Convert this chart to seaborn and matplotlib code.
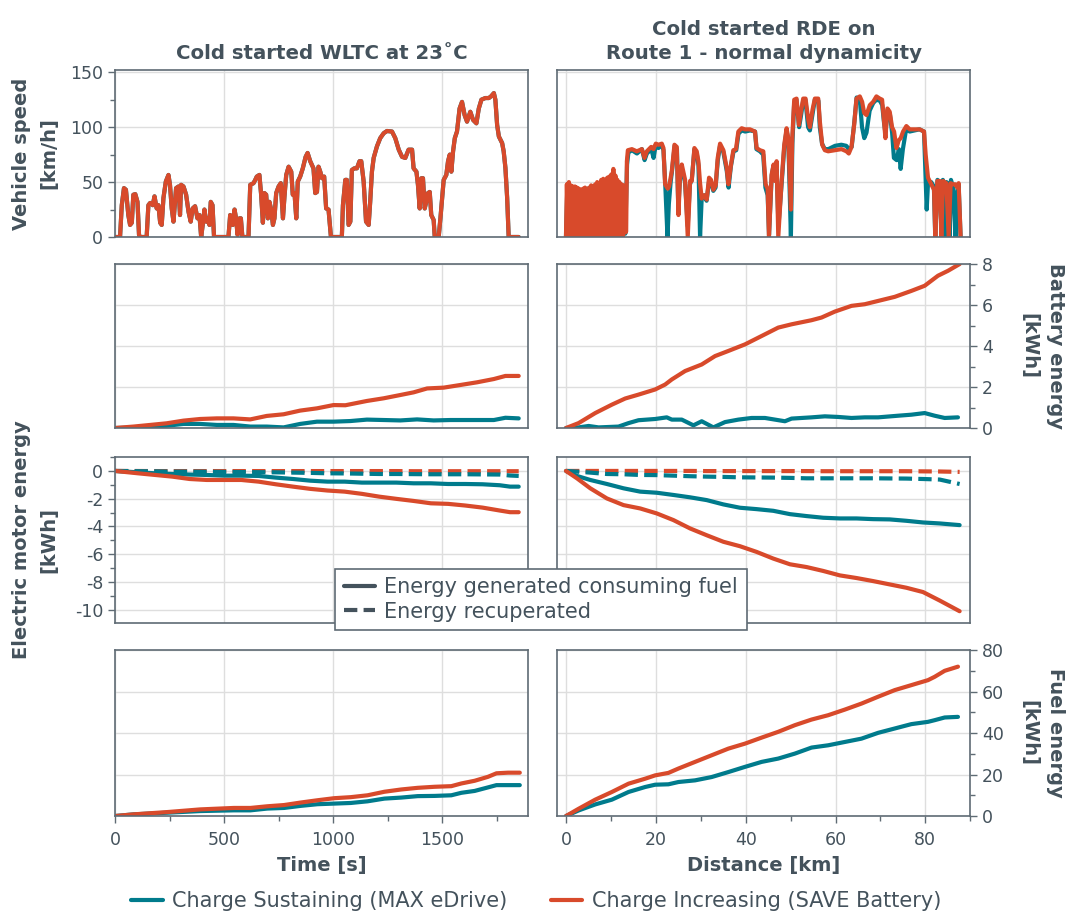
import matplotlib
matplotlib.use("Agg")
import matplotlib.pyplot as plt
from matplotlib.lines import Line2D
from matplotlib.ticker import MultipleLocator
import pandas as pd
import seaborn as sns

# ---------------------------------------------------------------- data
# WLTC speed trace (time [s], speed [km/h]) - identical for both modes
wltc_speed = [
    (0, 0), (23, 0), (31, 29), (41, 44.5), (50, 43), (61, 20), (69, 11), (77, 13),
    (84, 38.5), (93, 39), (103, 32), (110, 2), (115, 0), (145, 0), (153, 29), (161, 31),
    (173, 29), (181, 37), (191, 26), (199, 29), (207, 13), (214, 11), (222, 35.5),
    (233, 50.5), (245, 56.5), (252, 47.5), (260, 26), (268, 14), (280, 44.5), (291, 46),
    (298, 20), (303, 47.5), (314, 46), (326, 38.5), (337, 23), (347, 14), (356, 26),
    (367, 28), (378, 17), (387, 20), (395, 0), (402, 11), (410, 25), (418, 14), (424, 17),
    (433, 11), (439, 32), (447, 29), (454, 0), (520, 0), (528, 20), (536, 14), (540, 11),
    (548, 25), (555, 17), (562, 2), (571, 17), (577, 17), (584, 0), (612, 0), (620, 47.5),
    (635, 49), (643, 52), (650, 55), (662, 56.5), (670, 38.5), (678, 13), (685, 40),
    (693, 38.5), (701, 17), (708, 32), (716, 25), (724, 11), (731, 17), (739, 40),
    (750, 46), (760, 49), (770, 17), (777, 37), (785, 56.5), (796, 64), (808, 59.5),
    (815, 38.5), (823, 40), (831, 17), (838, 50.5), (849, 55), (861, 62.5), (874, 73),
    (883, 76.5), (895, 69), (910, 62.5), (918, 40), (926, 41), (933, 64), (941, 59.5),
    (949, 53.5), (959, 55), (968, 26), (979, 25), (990, 0), (1040, 0), (1045, 29),
    (1056, 52), (1063, 52), (1071, 11), (1079, 14), (1086, 61), (1097, 62.5), (1109, 62.5),
    (1121, 69), (1129, 69), (1140, 50.5), (1151, 14), (1163, 11), (1170, 32), (1178, 59.5),
    (1186, 72), (1201, 82.5), (1216, 90), (1232, 94.5), (1247, 96.5), (1270, 96),
    (1285, 90), (1301, 79.5), (1316, 73), (1331, 72), (1346, 79.5), (1362, 79.5),
    (1369, 62.5), (1382, 59.5), (1389, 47.5), (1397, 26), (1405, 53.5), (1412, 53.5),
    (1420, 26), (1427, 32), (1435, 40), (1443, 41), (1450, 20), (1461, 15.5), (1466, 0),
    (1484, 0), (1492, 17), (1507, 52), (1519, 56.5), (1527, 69), (1535, 75), (1542, 59.5),
    (1550, 78), (1558, 90), (1568, 96), (1580, 117), (1591, 123), (1603, 111), (1614, 105),
    (1629, 114), (1642, 106.5), (1657, 103.5), (1668, 117), (1680, 125), (1698, 126.5),
    (1714, 126.5), (1724, 128), (1737, 131), (1744, 125), (1752, 102), (1760, 91.5),
    (1775, 85.5), (1782, 78), (1790, 63), (1798, 35.5), (1805, 0), (1851, 0),
]

# RDE speed trace (distance [km], speed [km/h]), Charge Sustaining
rde_speed_cs = [
    (0.0, 0), (0.3, 45), (0.6, 0), (1.0, 42), (1.4, 0), (1.8, 44), (2.3, 0), (2.8, 43),
    (3.3, 0), (3.8, 42), (4.3, 0), (4.8, 44), (5.3, 0), (5.8, 45), (6.3, 0), (6.8, 47),
    (7.3, 0), (7.8, 48), (8.3, 0), (8.7, 50), (9.2, 0), (9.7, 52), (10.2, 0), (10.6, 58),
    (11.1, 0), (11.6, 50), (12.1, 0), (12.6, 46), (13.2, 3), (13.6, 66), (13.9, 77),
    (14.7, 79), (15.8, 76), (16.9, 80), (17.5, 70), (18.0, 76), (19.0, 80), (19.5, 72),
    (20.0, 84), (20.6, 81), (21.3, 84), (21.7, 79), (22.1, 48), (22.4, 20), (22.6, 0),
    (22.9, 30), (23.3, 50), (23.6, 60), (24.2, 83), (24.7, 80), (25.0, 25), (25.4, 55),
    (25.8, 62), (26.5, 50), (27.1, 10), (27.6, 48), (28.0, 52), (28.6, 80), (29.1, 76),
    (29.5, 65), (29.85, 0), (30.2, 34), (30.8, 38), (31.3, 33), (31.9, 52), (32.3, 50),
    (32.8, 42), (33.3, 45), (33.8, 70), (34.3, 83), (35.0, 78), (35.8, 60), (36.2, 45),
    (36.7, 64), (37.3, 78), (37.9, 79), (38.4, 94), (39.1, 97), (39.9, 96), (41.0, 97),
    (42.1, 96), (42.4, 80), (43.2, 78), (43.9, 75), (44.4, 45), (44.9, 38), (45.2, 2),
    (45.8, 56), (46.2, 65), (46.5, 52), (46.9, 62), (47.3, 10), (48.0, 48), (48.6, 82),
    (49.1, 97), (49.5, 88), (49.8, 40), (50.07, 0), (50.4, 85), (50.8, 122), (51.3, 125),
    (51.9, 100), (52.3, 110), (52.8, 124), (53.3, 125), (53.9, 100), (54.3, 97),
    (54.9, 112), (55.4, 125), (56.2, 124), (56.5, 100), (57.0, 85), (57.6, 80), (58.4, 80),
    (59.9, 83), (61.3, 84), (62.4, 83), (63.0, 80), (63.6, 82), (64.2, 105), (64.7, 127),
    (65.4, 126), (65.9, 100), (66.4, 90), (66.9, 95), (67.6, 115), (68.4, 122), (69.1, 125),
    (69.9, 124), (70.4, 120), (70.8, 104), (71.1, 95), (71.6, 115), (72.1, 112), (72.6, 95),
    (73.0, 72), (73.6, 70), (74.1, 80), (74.5, 62), (75.0, 80), (75.8, 100), (76.5, 96),
    (77.6, 97), (78.7, 98), (79.7, 96), (80.0, 60), (80.3, 25), (80.6, 50), (81.3, 50),
    (81.9, 46), (82.2, 0), (82.7, 52), (83.2, 50), (83.6, 0), (83.9, 52), (84.3, 0),
    (84.7, 50), (85.2, 48), (85.4, 0), (85.7, 52), (86.2, 45), (86.7, 0), (87.1, 40),
    (87.4, 48), (87.85, 0),
]

# RDE speed trace (distance [km], speed [km/h]), Charge Increasing
rde_speed_ci = [
    (0.0, 0), (0.2, 48), (0.45, 2), (0.65, 50), (0.9, 0), (1.1, 47), (1.35, 5), (1.55, 46),
    (1.8, 0), (2.0, 46), (2.25, 3), (2.45, 45), (2.7, 0), (2.9, 44), (3.15, 6), (3.35, 43),
    (3.6, 0), (3.8, 44), (4.05, 2), (4.25, 45), (4.5, 0), (4.7, 42), (4.95, 4), (5.15, 45),
    (5.4, 0), (5.6, 47), (5.85, 3), (6.05, 46), (6.3, 0), (6.5, 48), (6.75, 5), (6.95, 50),
    (7.2, 0), (7.4, 49), (7.65, 2), (7.85, 52), (8.1, 0), (8.3, 53), (8.55, 4), (8.75, 51),
    (9.0, 0), (9.2, 54), (9.45, 3), (9.65, 55), (9.9, 0), (10.1, 57), (10.35, 5),
    (10.55, 62), (10.8, 0), (11.0, 56), (11.25, 3), (11.45, 52), (11.7, 0), (11.9, 50),
    (12.15, 4), (12.35, 48), (12.6, 0), (12.8, 47), (13.0, 45), (13.2, 4), (13.4, 5),
    (13.56, 69), (13.78, 79), (14.67, 80), (15.78, 78), (16.89, 80), (17.48, 72),
    (18.0, 78), (18.96, 82), (19.48, 80), (20.0, 85), (20.59, 84), (21.33, 85), (21.7, 81),
    (22.07, 48), (22.67, 44), (22.96, 46), (23.56, 60), (24.15, 84), (24.67, 82),
    (25.04, 20), (25.41, 58), (25.78, 66), (26.52, 52), (27.11, 0), (27.63, 51), (28.0, 51),
    (28.59, 81), (29.11, 78), (29.48, 69), (29.85, 49), (30.22, 35), (30.81, 38),
    (31.33, 34), (31.85, 54), (32.3, 52), (32.81, 43), (33.33, 47), (33.78, 72), (34.3, 85),
    (35.04, 79), (35.78, 63), (36.15, 48), (36.74, 66), (37.26, 79), (37.85, 80),
    (38.37, 96), (39.11, 99), (39.85, 98), (40.96, 98), (42.07, 96), (42.44, 81),
    (43.19, 79), (43.93, 78), (44.44, 48), (44.89, 44), (45.19, 0), (45.78, 57),
    (46.22, 66), (46.52, 51), (46.89, 69), (47.26, 0), (48.0, 51), (48.59, 84), (49.11, 99),
    (49.48, 90), (50.07, 25), (50.37, 90), (50.81, 125), (51.33, 126), (51.85, 102),
    (52.3, 114), (52.81, 126), (53.33, 126), (53.93, 107), (54.3, 100), (54.89, 116),
    (55.41, 126), (56.15, 126), (56.52, 105), (57.04, 84), (57.63, 79), (58.37, 78),
    (59.85, 79), (61.33, 80), (62.44, 78), (62.96, 76), (63.56, 82), (64.15, 102),
    (64.67, 126), (65.41, 128), (65.93, 123), (66.37, 113), (66.89, 111), (67.63, 120),
    (68.37, 123), (69.11, 128), (69.85, 126), (70.37, 125), (70.81, 105), (71.11, 90),
    (71.56, 117), (72.07, 114), (72.59, 100), (73.04, 96), (73.56, 81), (74.07, 88),
    (74.52, 90), (75.04, 96), (75.78, 101), (76.52, 98), (77.63, 98), (78.74, 98),
    (79.7, 96), (80.07, 75), (80.59, 54), (81.33, 48), (81.93, 43), (82.22, 0), (82.67, 51),
    (83.19, 51), (83.56, 0), (83.93, 51), (84.67, 49), (85.19, 0), (85.63, 49), (86.15, 48),
    (86.67, 48), (87.11, 45), (87.41, 49), (87.85, 0),
]

# Battery energy [kWh]
bat_wltc_t_cs = [0, 84, 161, 237, 314, 390, 467, 543, 620, 696, 773, 849, 926, 1002,
                 1079, 1155, 1232, 1308, 1385, 1461, 1538, 1614, 1691, 1737, 1790, 1851]
bat_wltc_cs = [0, 0.02, 0.07, 0.11, 0.2, 0.2, 0.15, 0.15, 0.07, 0.07, 0.03, 0.2, 0.31,
               0.31, 0.34, 0.41, 0.39, 0.37, 0.42, 0.37, 0.39, 0.39, 0.39, 0.39, 0.5, 0.47]
bat_wltc_t_ci = [0, 84, 161, 237, 314, 390, 467, 543, 620, 696, 773, 849, 926, 1002,
                 1056, 1155, 1232, 1308, 1369, 1431, 1507, 1584, 1660, 1737, 1790, 1851]
bat_wltc_ci = [0, 0.07, 0.15, 0.23, 0.36, 0.44, 0.47, 0.47, 0.42, 0.59, 0.67, 0.85, 0.96,
               1.12, 1.11, 1.32, 1.45, 1.61, 1.74, 1.93, 1.97, 2.1, 2.23, 2.39, 2.54, 2.54]
bat_rde_d_cs = [0, 2.81, 5.04, 7.26, 11.7, 13.93, 16.15, 19.85, 22.44, 23.56, 25.78, 28.37,
                30.22, 32.81, 35.41, 38.37, 41.33, 44.3, 46.52, 48.74, 50.22, 54.67, 57.63,
                60.59, 63.56, 66.52, 69.48, 73.93, 76.89, 79.85, 82.07, 84.3, 87.26]
bat_rde_cs = [0, 0.03, 0.1, 0.03, 0.07, 0.24, 0.38, 0.44, 0.52, 0.41, 0.41, 0.13, 0.33,
              0.03, 0.29, 0.41, 0.49, 0.49, 0.41, 0.33, 0.46, 0.52, 0.57, 0.54, 0.49, 0.52,
              0.52, 0.6, 0.65, 0.73, 0.6, 0.49, 0.52]
bat_rde_d_ci = [0, 2.81, 6.52, 10.22, 13.19, 16.15, 19.85, 22.07, 23.56, 26.52, 30.22,
                33.19, 36.15, 39.85, 43.56, 47.26, 50.22, 54.67, 56.89, 59.85, 63.56, 66.52,
                69.48, 73.19, 76.89, 79.85, 82.81, 85.04, 87.63]
bat_rde_ci = [0, 0.24, 0.73, 1.14, 1.44, 1.63, 1.88, 2.12, 2.37, 2.78, 3.1, 3.51, 3.76,
              4.08, 4.49, 4.9, 5.06, 5.26, 5.39, 5.68, 5.96, 6.04, 6.2, 6.4, 6.69, 6.94,
              7.43, 7.67, 8.0]

# Electric motor energy [kWh]: generated consuming fuel (gen) / recuperated (rec)
em_wltc_t = [0, 105, 184, 263, 342, 421, 500, 579, 658, 737, 816, 895, 974, 1053, 1132,
             1211, 1290, 1369, 1448, 1527, 1606, 1685, 1764, 1811, 1851]
em_wltc_gen_cs = [0, -0.1, -0.17, -0.22, -0.26, -0.29, -0.34, -0.34, -0.36, -0.48, -0.58,
                  -0.7, -0.77, -0.77, -0.84, -0.84, -0.84, -0.89, -0.89, -0.94, -0.94,
                  -0.96, -1.03, -1.13, -1.13]
em_wltc_rec_cs = [0, -0.02, -0.03, -0.05, -0.05, -0.06, -0.07, -0.08, -0.09, -0.1, -0.12,
                  -0.14, -0.17, -0.18, -0.2, -0.22, -0.22, -0.23, -0.24, -0.24, -0.24,
                  -0.25, -0.26, -0.33, -0.36]
em_wltc_gen_ci = [0, -0.17, -0.29, -0.41, -0.58, -0.65, -0.65, -0.65, -0.77, -0.96, -1.13,
                  -1.29, -1.41, -1.49, -1.65, -1.85, -2.01, -2.16, -2.33, -2.37, -2.49,
                  -2.64, -2.85, -2.97, -2.97]
em_wltc_rec_ci = [0, -0.005, -0.01, -0.01, -0.01, -0.01, -0.01, -0.01, -0.01, -0.01, -0.01,
                  -0.01, -0.01, -0.01, -0.01, -0.01, -0.01, -0.02, -0.02, -0.02, -0.02,
                  -0.02, -0.02, -0.02, -0.02]
em_rde_d = [0, 2.44, 5.41, 9.11, 12.81, 16.52, 20.22, 23.93, 27.63, 31.33, 35.04, 38.74,
            42.44, 46.15, 49.85, 53.56, 57.26, 60.96, 64.67, 68.37, 72.07, 75.78, 79.48,
            83.19, 87.63]
em_rde_gen_cs = [0, -0.36, -0.65, -0.94, -1.25, -1.49, -1.57, -1.73, -1.9, -2.1, -2.41,
                 -2.65, -2.75, -2.87, -3.11, -3.25, -3.37, -3.42, -3.42, -3.47, -3.49,
                 -3.59, -3.71, -3.78, -3.9]
em_rde_rec_cs = [0, -0.05, -0.12, -0.22, -0.24, -0.29, -0.3, -0.34, -0.38, -0.41, -0.43,
                 -0.46, -0.47, -0.48, -0.5, -0.53, -0.53, -0.53, -0.53, -0.53, -0.54, -0.55,
                 -0.58, -0.62, -0.94]
em_rde_gen_ci = [0, -0.53, -1.25, -1.98, -2.46, -2.7, -3.06, -3.54, -4.14, -4.63, -5.1,
                 -5.42, -5.83, -6.31, -6.72, -6.92, -7.2, -7.52, -7.71, -7.93, -8.17, -8.41,
                 -8.72, -9.33, -10.1]
em_rde_rec_ci = [0, 0, 0, 0, 0, 0, 0, 0, 0, -0.01, -0.01, -0.01, -0.01, -0.01, -0.01, -0.01,
                 -0.02, -0.02, -0.02, -0.02, -0.02, -0.02, -0.03, -0.04, -0.07]

# Fuel energy [kWh]
fuel_wltc_t = [0, 84, 238, 391, 545, 621, 698, 775, 851, 928, 1005, 1081, 1158, 1235, 1312,
               1388, 1465, 1542, 1588, 1649, 1710, 1749, 1802, 1856]
fuel_wltc_cs = [0, 0.8, 1.6, 2.4, 2.75, 2.75, 3.6, 3.9, 4.9, 5.7, 6.0, 6.3, 7.1, 8.4, 8.9,
                9.6, 9.7, 10.0, 11.2, 12.1, 13.8, 14.9, 14.9, 14.9]
fuel_wltc_ci = [0, 0.8, 1.9, 3.2, 3.9, 3.9, 4.7, 5.3, 6.5, 7.6, 8.6, 9.1, 10.0, 11.7, 12.8,
                13.6, 14.1, 14.4, 15.7, 17.0, 18.9, 20.6, 20.9, 20.9]
fuel_rde_d = [0, 2.81, 6.52, 10.22, 13.93, 17.63, 19.85, 22.81, 25.04, 28.74, 32.44, 36.15,
              39.85, 43.56, 47.26, 50.96, 54.67, 58.37, 62.07, 65.78, 69.48, 73.19, 76.89,
              80.59, 82.07, 84.3, 87.26]
fuel_rde_cs = [0, 2.7, 5.6, 7.9, 11.6, 14.0, 15.1, 15.3, 16.4, 17.2, 18.8, 21.2, 23.7, 26.1,
               27.7, 30.1, 33.0, 34.1, 35.7, 37.3, 40.1, 42.2, 44.3, 45.4, 46.2, 47.5, 47.8]
fuel_rde_ci = [0, 3.5, 7.9, 11.6, 15.6, 18.0, 19.6, 20.8, 22.9, 26.1, 29.3, 32.5, 34.9,
               37.8, 40.6, 43.8, 46.5, 48.6, 51.3, 54.2, 57.5, 60.7, 63.1, 65.5, 67.1, 70.0,
               72.0]

mode_labels = ["Charge Sustaining (MAX eDrive)", "Charge Increasing (SAVE Battery)"]
style_labels = ["Energy generated consuming fuel", "Energy recuperated"]
col_titles = ["Cold started WLTC at 23\u02daC", "Cold started RDE on\nRoute 1 - normal dynamicity"]
row_labels = ["Vehicle speed\n[km/h]", "Battery energy\n[kWh]",
              "Electric motor energy\n[kWh]", "Fuel energy\n[kWh]"]
x_labels = ["Time [s]", "Distance [km]"]

# ---------------------------------------------------------------- style
TEAL = "#007b8c"
ORANGE = "#d84a2b"
INK = "#44525c"
SPINE = "#5f6b74"
GRID = "#dedede"
LW = 3.0
DASH = (0, (3.2, 1.5))

sns.set_theme(style="whitegrid")
plt.rcParams.update({
    "axes.edgecolor": SPINE,
    "axes.linewidth": 1.2,
    "grid.color": GRID,
    "grid.linewidth": 1.0,
    "axes.unicode_minus": False,
    "text.color": INK,
    "axes.labelcolor": INK,
    "xtick.color": INK,
    "ytick.color": INK,
    "lines.solid_capstyle": "round",
    "lines.solid_joinstyle": "round",
})
plt.rcParams["font.family"] = ["DejaVu Sans"]

fig = plt.figure(figsize=(10.66, 9.13), dpi=100)

col_left = [0.1079, 0.5225]
col_w = 0.3877
row_bottom = [0.7404, 0.5312, 0.3176, 0.1062]
row_h = [0.1829, 0.1796, 0.1818, 0.1818]

axes = [[fig.add_axes([col_left[c], row_bottom[r], col_w, row_h[r]]) for c in range(2)]
        for r in range(4)]

xlims = [(0, 1895), (-2, 90)]
xmaj = [500, 20]
xmin = [250, 10]
ylims = [(0, 152), (0, 8), (-10.95, 1.0), (0, 80)]
ymaj = [50, 2, 2, 20]
ymin = [25, 1, 1, 10]
TICK_FS = 12.5
LABEL_FS = 14
LEGEND_FS = 15


def draw(ax, x, y, color, dashed=False):
    frame = pd.DataFrame({"x": x, "y": y})
    kws = dict(linestyle=DASH) if dashed else {}
    sns.lineplot(data=frame, x="x", y="y", ax=ax, color=color, linewidth=LW,
                 estimator=None, sort=False, legend=False, **kws)


# row 1: vehicle speed
wt, wv = zip(*wltc_speed)
draw(axes[0][0], wt, wv, TEAL)
draw(axes[0][0], wt, wv, ORANGE)
d_cs, v_cs = zip(*rde_speed_cs)
d_ci, v_ci = zip(*rde_speed_ci)
draw(axes[0][1], d_cs, v_cs, TEAL)
draw(axes[0][1], d_ci, v_ci, ORANGE)

# row 2: battery energy
draw(axes[1][0], bat_wltc_t_cs, bat_wltc_cs, TEAL)
draw(axes[1][0], bat_wltc_t_ci, bat_wltc_ci, ORANGE)
draw(axes[1][1], bat_rde_d_cs, bat_rde_cs, TEAL)
draw(axes[1][1], bat_rde_d_ci, bat_rde_ci, ORANGE)

# row 3: electric motor energy
draw(axes[2][0], em_wltc_t, em_wltc_rec_ci, ORANGE, dashed=True)
draw(axes[2][0], em_wltc_t, em_wltc_rec_cs, TEAL, dashed=True)
draw(axes[2][0], em_wltc_t, em_wltc_gen_cs, TEAL)
draw(axes[2][0], em_wltc_t, em_wltc_gen_ci, ORANGE)
draw(axes[2][1], em_rde_d, em_rde_rec_ci, ORANGE, dashed=True)
draw(axes[2][1], em_rde_d, em_rde_rec_cs, TEAL, dashed=True)
draw(axes[2][1], em_rde_d, em_rde_gen_cs, TEAL)
draw(axes[2][1], em_rde_d, em_rde_gen_ci, ORANGE)

# row 4: fuel energy
draw(axes[3][0], fuel_wltc_t, fuel_wltc_cs, TEAL)
draw(axes[3][0], fuel_wltc_t, fuel_wltc_ci, ORANGE)
draw(axes[3][1], fuel_rde_d, fuel_rde_cs, TEAL)
draw(axes[3][1], fuel_rde_d, fuel_rde_ci, ORANGE)

for r in range(4):
    for c in range(2):
        ax = axes[r][c]
        ax.set_xlim(*xlims[c])
        ax.set_ylim(*ylims[r])
        ax.xaxis.set_major_locator(MultipleLocator(xmaj[c]))
        ax.xaxis.set_minor_locator(MultipleLocator(xmin[c]))
        ax.yaxis.set_major_locator(MultipleLocator(ymaj[r]))
        ax.yaxis.set_minor_locator(MultipleLocator(ymin[r]))
        ax.grid(True, which="major")
        ax.grid(False, which="minor")
        ax.set_xlabel("")
        ax.set_ylabel("")
        for sp in ax.spines.values():
            sp.set_visible(True)
            sp.set_color(SPINE)
            sp.set_linewidth(1.2)
        ax.tick_params(which="major", length=5, width=1, color=SPINE, labelsize=TICK_FS)
        ax.tick_params(which="minor", length=3.5, width=1, color=SPINE)
        # x axis: ticks only on the bottom row
        if r < 3:
            ax.tick_params(axis="x", which="both", bottom=False, labelbottom=False)
        else:
            ax.tick_params(axis="x", which="both", bottom=True, labelbottom=True)
            ax.tick_params(axis="x", which="major", pad=6)
            ax.set_xlabel(x_labels[c], fontsize=LABEL_FS, fontweight="bold", color=INK,
                          labelpad=5)
        # y axis: left labels for speed / electric motor, right labels for battery / fuel
        left_row = r in (0, 2)
        if c == 0 and left_row:
            ax.tick_params(axis="y", which="both", left=True, labelleft=True,
                           right=False, labelright=False)
            ax.set_ylabel(row_labels[r], fontsize=LABEL_FS, fontweight="bold", color=INK,
                          linespacing=1.5)
            ax.yaxis.set_label_coords(-0.138, 0.5)
        elif c == 1 and not left_row:
            ax.yaxis.tick_right()
            ax.yaxis.set_label_position("right")
            ax.tick_params(axis="y", which="both", left=False, labelleft=False,
                           right=True, labelright=True)
            ax.set_ylabel(row_labels[r], fontsize=LABEL_FS, fontweight="bold", color=INK,
                          rotation=270, va="bottom", linespacing=1.5)
            ax.yaxis.set_label_coords(1.118, 0.5)
        else:
            ax.tick_params(axis="y", which="both", left=False, labelleft=False,
                           right=False, labelright=False)

for c in range(2):
    axes[0][c].set_title(col_titles[c], fontsize=14.2, fontweight="bold", color=INK,
                         pad=8, linespacing=1.3)

# line style legend in the middle of the figure
style_handles = [Line2D([], [], color=INK, lw=LW),
                 Line2D([], [], color=INK, lw=LW, linestyle=DASH)]
leg1 = fig.legend(style_handles, style_labels, loc="center",
                  bbox_to_anchor=(0.5075, 0.3434), frameon=True, fancybox=False,
                  framealpha=1.0, edgecolor=SPINE, fontsize=LEGEND_FS, handlelength=1.5,
                  handletextpad=0.45, borderpad=0.4, labelspacing=0.2, borderaxespad=0)
leg1.get_frame().set_linewidth(1.2)
for t in leg1.get_texts():
    t.set_color(INK)

# operating mode legend at the bottom
mode_handles = [Line2D([], [], color=TEAL, lw=LW), Line2D([], [], color=ORANGE, lw=LW)]
leg2 = fig.legend(mode_handles, mode_labels, loc="center", bbox_to_anchor=(0.503, 0.013),
                  ncol=2, frameon=False, fontsize=LEGEND_FS, handlelength=1.5,
                  handletextpad=0.45, columnspacing=2.1, borderaxespad=0)
for t in leg2.get_texts():
    t.set_color(INK)

fig.savefig("out.png", dpi=100)
